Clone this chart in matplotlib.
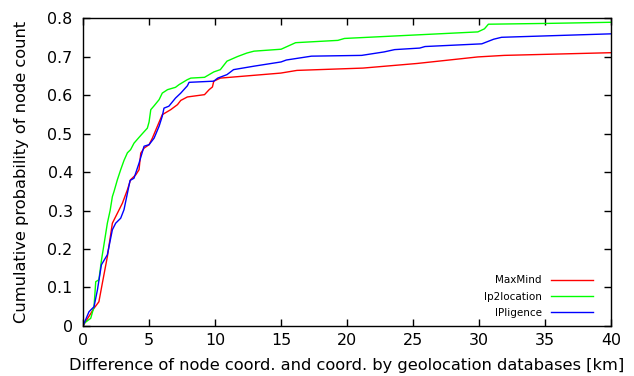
import matplotlib
matplotlib.use("Agg")
import matplotlib.pyplot as plt

maxmind_x = [0, 0.08, 0.83, 1.2, 1.46, 1.84, 2.22, 2.6, 2.98, 3.36, 3.6, 4.0, 4.24, 4.37, 4.62, 5.0, 5.25,
             5.63, 6.0, 6.64, 7.15, 7.4, 7.9, 9.2, 9.55, 9.8, 9.9, 10.4, 14.97, 16.2, 21.2, 25.3, 29.9, 31.9, 40]
maxmind_y = [0, 0.005, 0.046, 0.063, 0.111, 0.18, 0.267, 0.293, 0.319, 0.354, 0.38, 0.393, 0.406, 0.449,
             0.462, 0.471, 0.488, 0.519, 0.549, 0.562, 0.575, 0.586, 0.595, 0.601, 0.614, 0.621, 0.636, 0.644,
             0.657, 0.664, 0.67, 0.682, 0.699, 0.703, 0.710]

ip2_x = [0, 0.08, 0.58, 0.83, 0.96, 1.2, 1.39, 1.6, 1.84, 2.05, 2.22, 2.35, 2.6, 2.85, 3.1, 3.36, 3.6, 3.86,
         4.24, 4.5, 4.87, 5.0, 5.13, 5.38, 5.76, 6.0, 6.4, 7.0, 7.27, 7.9, 8.16, 9.2, 9.9, 10.4, 10.9, 11.7,
         12.4, 12.95, 15.0, 16.1, 19.3, 19.8, 29.9, 30.4, 30.7, 35.0, 40]
ip2_y = [0, 0.007, 0.02, 0.05, 0.115, 0.12, 0.17, 0.215, 0.267, 0.30, 0.336, 0.35, 0.38, 0.406, 0.43, 0.45,
         0.458, 0.475, 0.49, 0.50, 0.514, 0.53, 0.562, 0.572, 0.588, 0.605, 0.614, 0.62, 0.627, 0.64, 0.644,
         0.646, 0.66, 0.666, 0.688, 0.70, 0.709, 0.714, 0.719, 0.736, 0.742, 0.747, 0.764, 0.772, 0.784,
         0.786, 0.789]

ipl_x = [0, 0.08, 0.45, 0.83, 1.09, 1.39, 1.84, 2.22, 2.47, 2.85, 3.1, 3.56, 3.86, 4.24, 4.62, 5.0, 5.38,
         5.76, 6.0, 6.13, 6.5, 7.0, 7.4, 7.9, 8.03, 9.9, 10.2, 10.9, 11.4, 12.95, 15.0, 15.4, 17.3, 21.1,
         22.8, 23.6, 25.5, 25.9, 30.2, 31.1, 31.7, 40]
ipl_y = [0, 0.007, 0.037, 0.05, 0.094, 0.159, 0.185, 0.25, 0.267, 0.28, 0.302, 0.378, 0.384, 0.423, 0.467,
         0.471, 0.488, 0.519, 0.545, 0.566, 0.571, 0.592, 0.605, 0.624, 0.633, 0.636, 0.644, 0.653, 0.666,
         0.675, 0.686, 0.691, 0.701, 0.703, 0.712, 0.718, 0.722, 0.726, 0.733, 0.745, 0.75, 0.759]

xticks = [0, 5, 10, 15, 20, 25, 30, 35, 40]
yticks = [0, 0.1, 0.2, 0.3, 0.4, 0.5, 0.6, 0.7, 0.8]
ytick_labels = ["0", "0.1", "0.2", "0.3", "0.4", "0.5", "0.6", "0.7", "0.8"]

fig = plt.figure(figsize=(6.34, 3.76), dpi=100)
ax = fig.add_axes([0.131, 0.133, 0.833, 0.819])

ax.plot(maxmind_x, maxmind_y, color="#ff0000", lw=1.0, label="MaxMind")
ax.plot(ip2_x, ip2_y, color="#00ff00", lw=1.0, label="Ip2location")
ax.plot(ipl_x, ipl_y, color="#0000ff", lw=1.0, label="IPligence")

ax.set_xlim(0, 40)
ax.set_ylim(0, 0.8)
ax.set_xticks(xticks)
ax.set_xticklabels([str(v) for v in xticks])
ax.set_yticks(yticks)
ax.set_yticklabels(ytick_labels)
ax.tick_params(direction="in", top=True, right=True, length=5, width=1, labelsize=11.4)
ax.tick_params(axis="x", pad=5)
ax.tick_params(axis="y", pad=7.5)
for s in ax.spines.values():
    s.set_linewidth(1)

ax.set_xlabel("Difference of node coord. and coord. by geolocation databases [km]", fontsize=11.7, labelpad=7)
ax.set_ylabel("Cumulative probability of node count", fontsize=11.7, labelpad=13)

ax.legend(loc="lower right", bbox_to_anchor=(0.966, 0.026), frameon=False, markerfirst=False, fontsize=7.5,
          handlelength=4.1, handletextpad=0.85, labelspacing=0.6, borderaxespad=0, borderpad=0)

fig.savefig("out.png", dpi=100)
